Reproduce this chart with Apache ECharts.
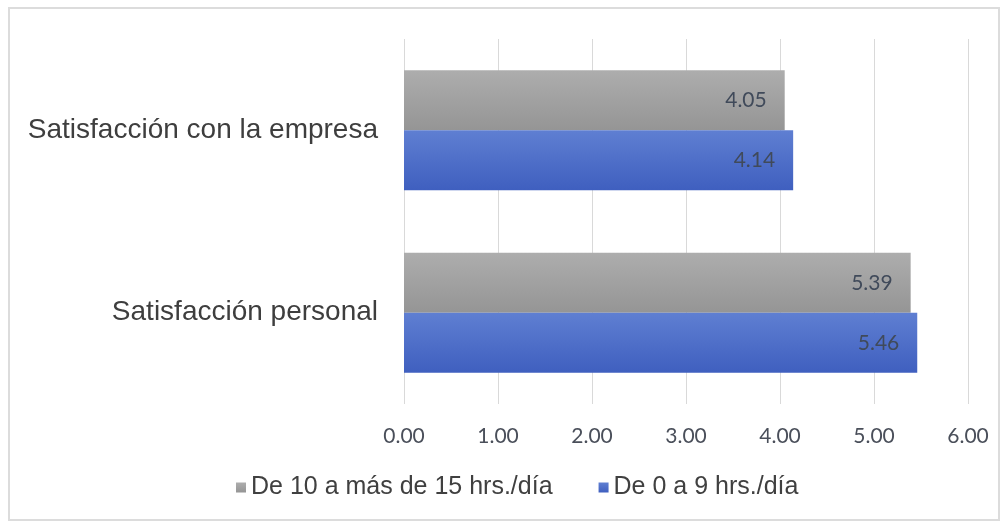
<!DOCTYPE html>
<html><head><meta charset="utf-8">
<script src="https://cdn.jsdelivr.net/npm/echarts@6/dist/echarts.min.js"></script>
<style>html,body{margin:0;padding:0;background:#fff}#c{width:1006px;height:527px}</style>
</head><body><div id="c"></div>
<script>
const categories = ['Satisfacción con la empresa', 'Satisfacción personal'];
const seriesNames = ['De 10 a más de 15 hrs./día', 'De 0 a 9 hrs./día'];
const grayValues = [4.05, 5.39];
const blueValues = [4.14, 5.46];
const xTicks = [0, 1, 2, 3, 4, 5, 6];

const chart = echarts.init(document.getElementById('c'));
function grad(a, b) {
  return new echarts.graphic.LinearGradient(0, 0, 0, 1, [{offset: 0, color: a}, {offset: 1, color: b}]);
}
const labelStyle = {
  show: true, position: 'insideRight', distance: 18,
  formatter: p => p.value.toFixed(2),
  color: '#404a5a', fontSize: 21, fontFamily: 'Lato'
};
chart.setOption({
  animation: false,
  graphic: [{
    type: 'rect', shape: {x: 9, y: 8, width: 990, height: 512},
    style: {fill: 'none', stroke: '#dcdcdc', lineWidth: 2}, silent: true
  }],
  grid: {left: 404, right: 38, top: 39, bottom: 123, containLabel: false},
  legend: {
    bottom: 22, left: 231, itemWidth: 10, itemHeight: 10, itemGap: 46,
    icon: 'rect',
    textStyle: {fontSize: 25, color: '#404040', fontFamily: 'Liberation Sans'},
    data: seriesNames
  },
  xAxis: {
    type: 'value', min: 0, max: 6, interval: 1,
    axisLine: {show: false}, axisTick: {show: false},
    splitLine: {lineStyle: {color: '#d9d9d9', width: 1}},
    axisLabel: {formatter: v => v.toFixed(2), fontSize: 21, color: '#4a4f5a', fontFamily: 'Lato', margin: 22}
  },
  yAxis: {
    type: 'category', data: categories, inverse: true,
    axisLine: {show: false}, axisTick: {show: false},
    axisLabel: {fontSize: 28, color: '#3e3e3e', fontFamily: 'Liberation Sans', margin: 26}
  },
  series: [
    {name: seriesNames[0], type: 'bar', data: grayValues, barWidth: 60, barGap: '0%',
     itemStyle: {color: grad('#adadad', '#959595')}, label: labelStyle},
    {name: seriesNames[1], type: 'bar', data: blueValues, barWidth: 60, barGap: '0%',
     itemStyle: {color: grad('#5f7fd2', '#3f5fbf')}, label: labelStyle}
  ]
});
</script></body></html>
